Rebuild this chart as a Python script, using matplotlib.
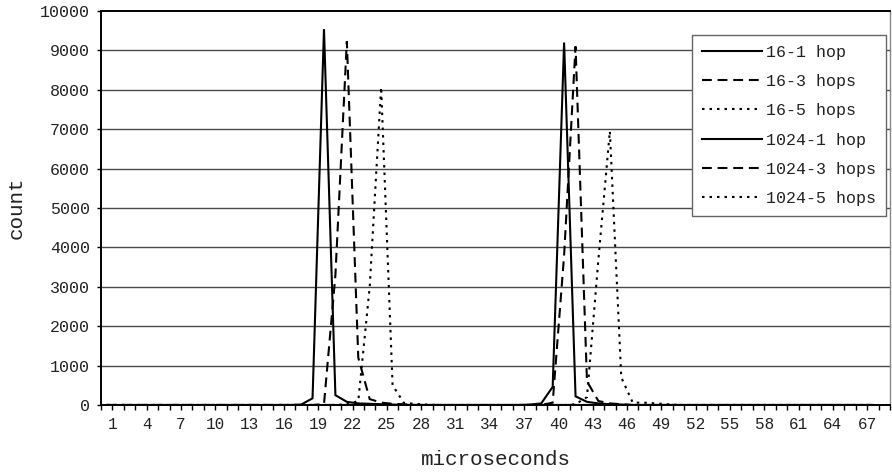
import numpy as np
import matplotlib
matplotlib.use("Agg")
import matplotlib.pyplot as plt

# ---- data: histogram bins of 1 microsecond (bin k covers [k, k+1)) ----
n_bins = 68
bins = np.arange(n_bins)

def series(values):
    arr = np.zeros(n_bins)
    for k, v in values.items():
        arr[k] = v
    return arr

s16_1 = series({17: 10, 18: 170, 19: 9540, 20: 250, 21: 80, 22: 40, 23: 30, 24: 20, 25: 10})
s16_3 = series({19: 20, 20: 3300, 21: 9230, 22: 1200, 23: 150, 24: 60, 25: 30, 26: 20})
s16_5 = series({21: 20, 22: 100, 23: 3000, 24: 8070, 25: 500, 26: 50, 27: 30, 28: 10})
s1024_1 = series({37: 10, 38: 40, 39: 460, 40: 9200, 41: 220, 42: 80, 43: 40, 44: 20, 45: 10})
s1024_3 = series({39: 60, 40: 3800, 41: 9100, 42: 600, 43: 100, 44: 40, 45: 20})
s1024_5 = series({41: 20, 42: 200, 43: 3700, 44: 6950, 45: 700, 46: 60, 47: 60, 48: 40, 49: 20})

labels = ["16-1 hop", "16-3 hops", "16-5 hops", "1024-1 hop", "1024-3 hops", "1024-5 hops"]
all_series = [s16_1, s16_3, s16_5, s1024_1, s1024_3, s1024_5]

x_tick_labels = list(range(1, 68, 3))
y_ticks = list(range(0, 10001, 1000))

# ---- styling ----
plt.rcParams['font.family'] = ['Liberation Mono', 'DejaVu Sans Mono']
text_color = '#222222'
styles = [
    dict(linestyle='-'),
    dict(linestyle=(0, (4.7, 2.8))),
    dict(linestyle=(0, (1.2, 2.4))),
    dict(linestyle='-'),
    dict(linestyle=(0, (4.7, 2.8))),
    dict(linestyle=(0, (1.2, 2.4))),
]

fig = plt.figure(figsize=(8.92, 4.75), dpi=100)
ax = fig.add_axes([101 / 892, 1 - 405 / 475, 789 / 892, 394 / 475])

centers = bins + 0.5
handles = []
for vals, lab, st in zip(all_series, labels, styles):
    ln, = ax.plot(centers, vals, color='black', lw=1.5, label=lab,
                  solid_joinstyle='miter', dash_joinstyle='miter', **st)
    handles.append(ln)

ax.set_xlim(0, n_bins + 1)
ax.set_ylim(0, 10000)

ax.set_yticks(y_ticks)
ax.set_yticklabels([str(v) for v in y_ticks])
ax.set_xticks(x_tick_labels)
ax.set_xticklabels([str(v) for v in x_tick_labels])
ax.set_xticks(np.arange(0, n_bins + 2), minor=True)

ax.tick_params(axis='y', which='major', direction='out', length=3, width=1,
               colors='black', labelcolor=text_color, labelsize=12, pad=5)
ax.tick_params(axis='x', which='both', direction='out', length=3.8, width=1,
               colors='black', labelcolor=text_color, labelsize=11.5, pad=5)

for y in y_ticks[1:-1]:
    ax.axhline(y, color='#4a4a4a', lw=1.0, zorder=0)

for side in ['left', 'bottom', 'top']:
    ax.spines[side].set_color('black')
    ax.spines[side].set_linewidth(1.4)
ax.spines['right'].set_color('#888888')
ax.spines['right'].set_linewidth(1.0)

ax.set_xlabel('microseconds', fontsize=15, color=text_color)
ax.set_ylabel('count', fontsize=15, color=text_color)
ax.xaxis.set_label_coords(0.5, -0.115)
ax.yaxis.set_label_coords(-0.095, 0.5)

leg = ax.legend(handles=handles, loc='upper left',
                bbox_to_anchor=((692 - 101) / 789, (405 - 35) / 394),
                frameon=True, fancybox=False, framealpha=1, edgecolor='#666666',
                fontsize=12, handlelength=3.6, handletextpad=0.25,
                labelspacing=0.86, borderpad=0.58, borderaxespad=0)
leg.get_frame().set_linewidth(1.0)
for t in leg.get_texts():
    t.set_color(text_color)

fig.savefig('out.png', dpi=100)
